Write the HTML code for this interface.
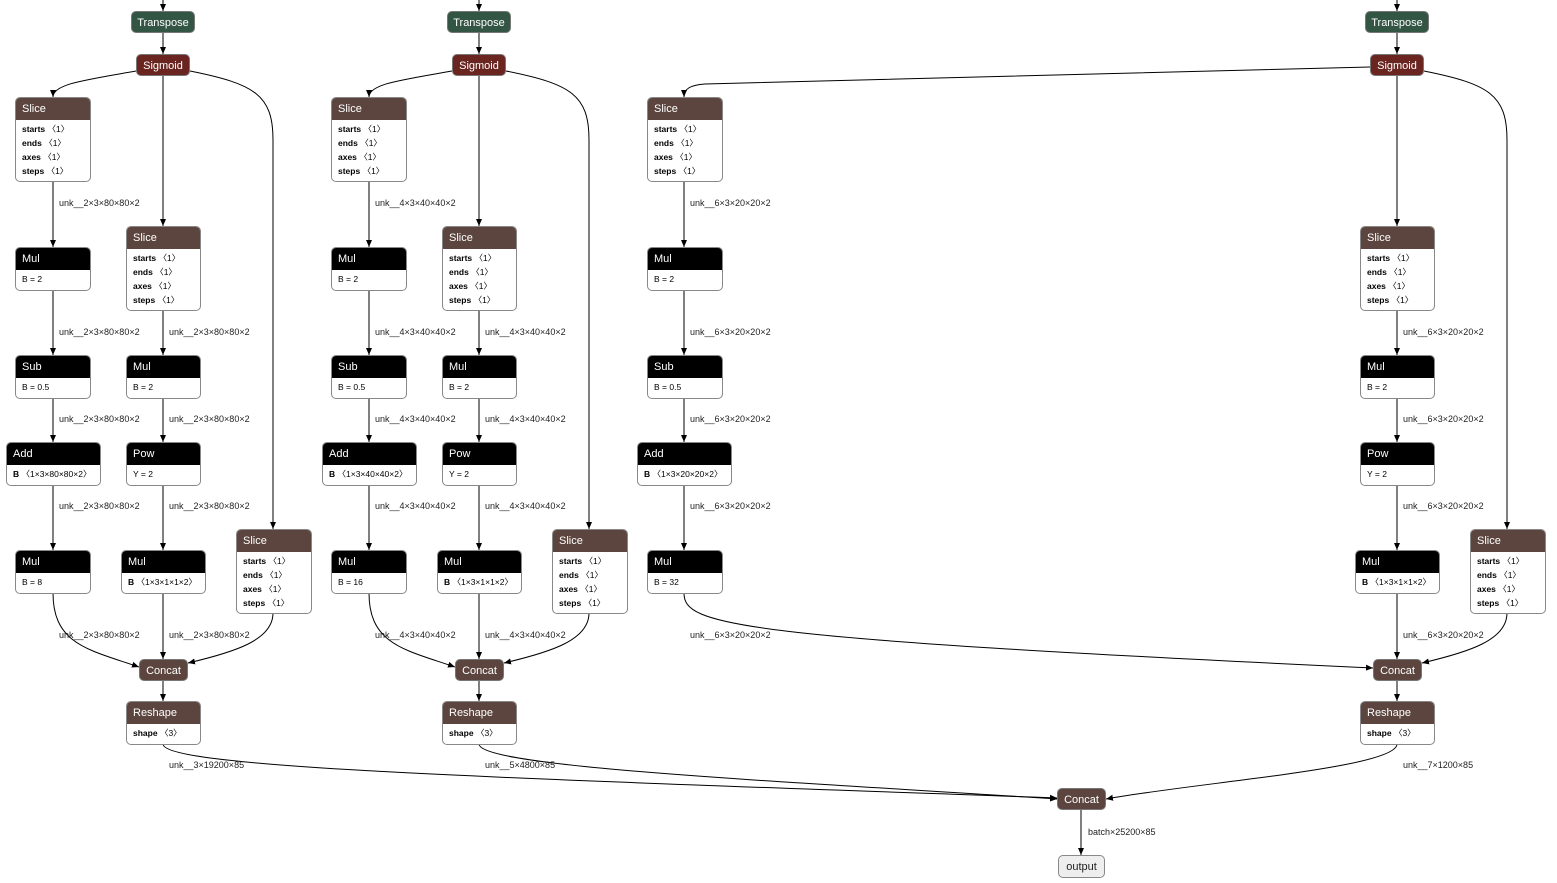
<!DOCTYPE html>
<html><head><meta charset="utf-8"><style>
body{margin:0;width:1557px;height:883px;background:#fff;position:relative;overflow:hidden;font-family:"Liberation Sans","DejaVu Sans",sans-serif}
svg{position:absolute;left:0;top:0}
.n{position:absolute;border-radius:5px;overflow:hidden;border:1px solid #888;background:#fff;box-sizing:border-box}
.h{height:22px;line-height:22px;color:#fff;font-size:11px;padding-left:6px}
.b{padding:2px 0 2px 6px;font-size:8.5px;line-height:14px;color:#000}
.b b{font-weight:bold}
.s{position:absolute;height:22px;line-height:22px;border-radius:5px;color:#fff;font-size:11px;text-align:center;border:1px solid #777;box-sizing:border-box}
.tr{background:#335544}.sg{background:#6b2520}.br{background:#5b453e}.bk{background:#000}
.lb{font-size:9px;fill:#222;font-family:"Liberation Sans","DejaVu Sans",sans-serif}
</style></head><body>
<svg width="1557" height="883">
<defs><marker id="a" markerWidth="8" markerHeight="8" refX="7" refY="4" orient="auto" markerUnits="userSpaceOnUse"><path d="M0,1 L7,4 L0,7 z" fill="#000"/></marker></defs>
<g fill="none" stroke="#000" stroke-width="1" marker-end="url(#a)">
<!-- col1 -->
<path d="M163,0 L163,11"/><path d="M163,33 L163,54"/>
<path d="M136,71 C85,80 53,84 53,97"/>
<path d="M163,76 L163,226"/>
<path d="M190,71 C255,84 273,95 273,140 L273,529"/>
<path d="M53,181 L53,247"/><path d="M53,290 L53,355"/><path d="M163,310 L163,355"/>
<path d="M53,398 L53,442"/><path d="M163,398 L163,442"/>
<path d="M53,485 L53,550"/><path d="M163,485 L163,550"/>
<path d="M53,593 C53,645 90,650 139,667"/>
<path d="M163,593 L163,659"/>
<path d="M273,613 C273,640 235,652 188,663"/>
<path d="M163,681 L163,701"/>
<!-- col2 -->
<path d="M479,0 L479,11"/><path d="M479,33 L479,54"/>
<path d="M452,71 C401,80 369,84 369,97"/>
<path d="M479,76 L479,226"/>
<path d="M506,71 C571,84 589,95 589,140 L589,529"/>
<path d="M369,181 L369,247"/><path d="M369,290 L369,355"/><path d="M479,310 L479,355"/>
<path d="M369,398 L369,442"/><path d="M479,398 L479,442"/>
<path d="M369,485 L369,550"/><path d="M479,485 L479,550"/>
<path d="M369,593 C369,645 406,650 455,667"/>
<path d="M479,593 L479,659"/>
<path d="M589,613 C589,640 551,652 504,663"/>
<path d="M479,681 L479,701"/>
<!-- col3/4 -->
<path d="M1397,0 L1397,11"/><path d="M1397,33 L1397,54"/>
<path d="M1370,67 L705,84 C690,85 684,89 684,97"/>
<path d="M1397,76 L1397,226"/>
<path d="M1424,71 C1489,84 1507,95 1507,140 L1507,529"/>
<path d="M684,181 L684,247"/><path d="M684,290 L684,355"/><path d="M1397,310 L1397,355"/>
<path d="M684,398 L684,442"/><path d="M1397,398 L1397,442"/>
<path d="M684,485 L684,550"/><path d="M1397,485 L1397,550"/>
<path d="M684,593 C684,625 730,638 1373,668"/>
<path d="M1397,593 L1397,659"/>
<path d="M1507,613 C1507,640 1469,652 1422,663"/>
<path d="M1397,681 L1397,701"/>
<!-- final -->
<path d="M163,744 C163,768 500,778 1057,798"/>
<path d="M479,744 C479,768 800,782 1057,799"/>
<path d="M1397,744 C1397,768 1200,782 1106,799"/>
<path d="M1081,810 L1081,855"/>
</g>
<g class="lb">
<text x="59" y="206">unk__2×3×80×80×2</text>
<text x="59" y="335">unk__2×3×80×80×2</text><text x="169" y="335">unk__2×3×80×80×2</text>
<text x="59" y="422">unk__2×3×80×80×2</text><text x="169" y="422">unk__2×3×80×80×2</text>
<text x="59" y="509">unk__2×3×80×80×2</text><text x="169" y="509">unk__2×3×80×80×2</text>
<text x="59" y="638">unk__2×3×80×80×2</text><text x="169" y="638">unk__2×3×80×80×2</text>
<text x="375" y="206">unk__4×3×40×40×2</text>
<text x="375" y="335">unk__4×3×40×40×2</text><text x="485" y="335">unk__4×3×40×40×2</text>
<text x="375" y="422">unk__4×3×40×40×2</text><text x="485" y="422">unk__4×3×40×40×2</text>
<text x="375" y="509">unk__4×3×40×40×2</text><text x="485" y="509">unk__4×3×40×40×2</text>
<text x="375" y="638">unk__4×3×40×40×2</text><text x="485" y="638">unk__4×3×40×40×2</text>
<text x="690" y="206">unk__6×3×20×20×2</text>
<text x="690" y="335">unk__6×3×20×20×2</text><text x="1403" y="335">unk__6×3×20×20×2</text>
<text x="690" y="422">unk__6×3×20×20×2</text><text x="1403" y="422">unk__6×3×20×20×2</text>
<text x="690" y="509">unk__6×3×20×20×2</text><text x="1403" y="509">unk__6×3×20×20×2</text>
<text x="690" y="638">unk__6×3×20×20×2</text><text x="1403" y="638">unk__6×3×20×20×2</text>
<text x="169" y="768">unk__3×19200×85</text>
<text x="485" y="768">unk__5×4800×85</text>
<text x="1403" y="768">unk__7×1200×85</text>
<text x="1088" y="835">batch×25200×85</text>
</g>
</svg>

<!-- col1 -->
<div class="s tr" style="left:131px;top:11px;width:64px">Transpose</div>
<div class="s sg" style="left:136px;top:54px;width:54px">Sigmoid</div>
<div class="n" style="left:15px;top:97px;width:76px;height:85px"><div class="h br">Slice</div><div class="b"><b>starts</b> 〈1〉<br><b>ends</b> 〈1〉<br><b>axes</b> 〈1〉<br><b>steps</b> 〈1〉</div></div>
<div class="n" style="left:126px;top:226px;width:75px;height:85px"><div class="h br">Slice</div><div class="b"><b>starts</b> 〈1〉<br><b>ends</b> 〈1〉<br><b>axes</b> 〈1〉<br><b>steps</b> 〈1〉</div></div>
<div class="n" style="left:15px;top:247px;width:76px;height:44px"><div class="h bk">Mul</div><div class="b">B = 2</div></div>
<div class="n" style="left:15px;top:355px;width:76px;height:44px"><div class="h bk">Sub</div><div class="b">B = 0.5</div></div>
<div class="n" style="left:126px;top:355px;width:75px;height:44px"><div class="h bk">Mul</div><div class="b">B = 2</div></div>
<div class="n" style="left:6px;top:442px;width:95px;height:44px"><div class="h bk">Add</div><div class="b"><b>B</b> 〈1×3×80×80×2〉</div></div>
<div class="n" style="left:126px;top:442px;width:75px;height:44px"><div class="h bk">Pow</div><div class="b">Y = 2</div></div>
<div class="n" style="left:15px;top:550px;width:76px;height:44px"><div class="h bk">Mul</div><div class="b">B = 8</div></div>
<div class="n" style="left:121px;top:550px;width:85px;height:44px"><div class="h bk">Mul</div><div class="b"><b>B</b> 〈1×3×1×1×2〉</div></div>
<div class="n" style="left:236px;top:529px;width:76px;height:85px"><div class="h br">Slice</div><div class="b"><b>starts</b> 〈1〉<br><b>ends</b> 〈1〉<br><b>axes</b> 〈1〉<br><b>steps</b> 〈1〉</div></div>
<div class="s br" style="left:139px;top:659px;width:49px">Concat</div>
<div class="n" style="left:126px;top:701px;width:75px;height:44px"><div class="h br">Reshape</div><div class="b"><b>shape</b> 〈3〉</div></div>

<!-- col2 -->
<div class="s tr" style="left:447px;top:11px;width:64px">Transpose</div>
<div class="s sg" style="left:452px;top:54px;width:54px">Sigmoid</div>
<div class="n" style="left:331px;top:97px;width:76px;height:85px"><div class="h br">Slice</div><div class="b"><b>starts</b> 〈1〉<br><b>ends</b> 〈1〉<br><b>axes</b> 〈1〉<br><b>steps</b> 〈1〉</div></div>
<div class="n" style="left:442px;top:226px;width:75px;height:85px"><div class="h br">Slice</div><div class="b"><b>starts</b> 〈1〉<br><b>ends</b> 〈1〉<br><b>axes</b> 〈1〉<br><b>steps</b> 〈1〉</div></div>
<div class="n" style="left:331px;top:247px;width:76px;height:44px"><div class="h bk">Mul</div><div class="b">B = 2</div></div>
<div class="n" style="left:331px;top:355px;width:76px;height:44px"><div class="h bk">Sub</div><div class="b">B = 0.5</div></div>
<div class="n" style="left:442px;top:355px;width:75px;height:44px"><div class="h bk">Mul</div><div class="b">B = 2</div></div>
<div class="n" style="left:322px;top:442px;width:95px;height:44px"><div class="h bk">Add</div><div class="b"><b>B</b> 〈1×3×40×40×2〉</div></div>
<div class="n" style="left:442px;top:442px;width:75px;height:44px"><div class="h bk">Pow</div><div class="b">Y = 2</div></div>
<div class="n" style="left:331px;top:550px;width:76px;height:44px"><div class="h bk">Mul</div><div class="b">B = 16</div></div>
<div class="n" style="left:437px;top:550px;width:85px;height:44px"><div class="h bk">Mul</div><div class="b"><b>B</b> 〈1×3×1×1×2〉</div></div>
<div class="n" style="left:552px;top:529px;width:76px;height:85px"><div class="h br">Slice</div><div class="b"><b>starts</b> 〈1〉<br><b>ends</b> 〈1〉<br><b>axes</b> 〈1〉<br><b>steps</b> 〈1〉</div></div>
<div class="s br" style="left:455px;top:659px;width:49px">Concat</div>
<div class="n" style="left:442px;top:701px;width:75px;height:44px"><div class="h br">Reshape</div><div class="b"><b>shape</b> 〈3〉</div></div>

<!-- col3 -->
<div class="n" style="left:647px;top:97px;width:76px;height:85px"><div class="h br">Slice</div><div class="b"><b>starts</b> 〈1〉<br><b>ends</b> 〈1〉<br><b>axes</b> 〈1〉<br><b>steps</b> 〈1〉</div></div>
<div class="n" style="left:647px;top:247px;width:76px;height:44px"><div class="h bk">Mul</div><div class="b">B = 2</div></div>
<div class="n" style="left:647px;top:355px;width:76px;height:44px"><div class="h bk">Sub</div><div class="b">B = 0.5</div></div>
<div class="n" style="left:637px;top:442px;width:95px;height:44px"><div class="h bk">Add</div><div class="b"><b>B</b> 〈1×3×20×20×2〉</div></div>
<div class="n" style="left:647px;top:550px;width:76px;height:44px"><div class="h bk">Mul</div><div class="b">B = 32</div></div>

<!-- col4 -->
<div class="s tr" style="left:1365px;top:11px;width:64px">Transpose</div>
<div class="s sg" style="left:1370px;top:54px;width:54px">Sigmoid</div>
<div class="n" style="left:1360px;top:226px;width:75px;height:85px"><div class="h br">Slice</div><div class="b"><b>starts</b> 〈1〉<br><b>ends</b> 〈1〉<br><b>axes</b> 〈1〉<br><b>steps</b> 〈1〉</div></div>
<div class="n" style="left:1360px;top:355px;width:75px;height:44px"><div class="h bk">Mul</div><div class="b">B = 2</div></div>
<div class="n" style="left:1360px;top:442px;width:75px;height:44px"><div class="h bk">Pow</div><div class="b">Y = 2</div></div>
<div class="n" style="left:1355px;top:550px;width:85px;height:44px"><div class="h bk">Mul</div><div class="b"><b>B</b> 〈1×3×1×1×2〉</div></div>
<div class="n" style="left:1470px;top:529px;width:76px;height:85px"><div class="h br">Slice</div><div class="b"><b>starts</b> 〈1〉<br><b>ends</b> 〈1〉<br><b>axes</b> 〈1〉<br><b>steps</b> 〈1〉</div></div>
<div class="s br" style="left:1373px;top:659px;width:49px">Concat</div>
<div class="n" style="left:1360px;top:701px;width:75px;height:44px"><div class="h br">Reshape</div><div class="b"><b>shape</b> 〈3〉</div></div>

<!-- final -->
<div class="s br" style="left:1057px;top:788px;width:49px">Concat</div>
<div class="s" style="left:1058px;top:855px;width:47px;height:23px;background:#eee;color:#222;border-color:#888">output</div>
</body></html>
